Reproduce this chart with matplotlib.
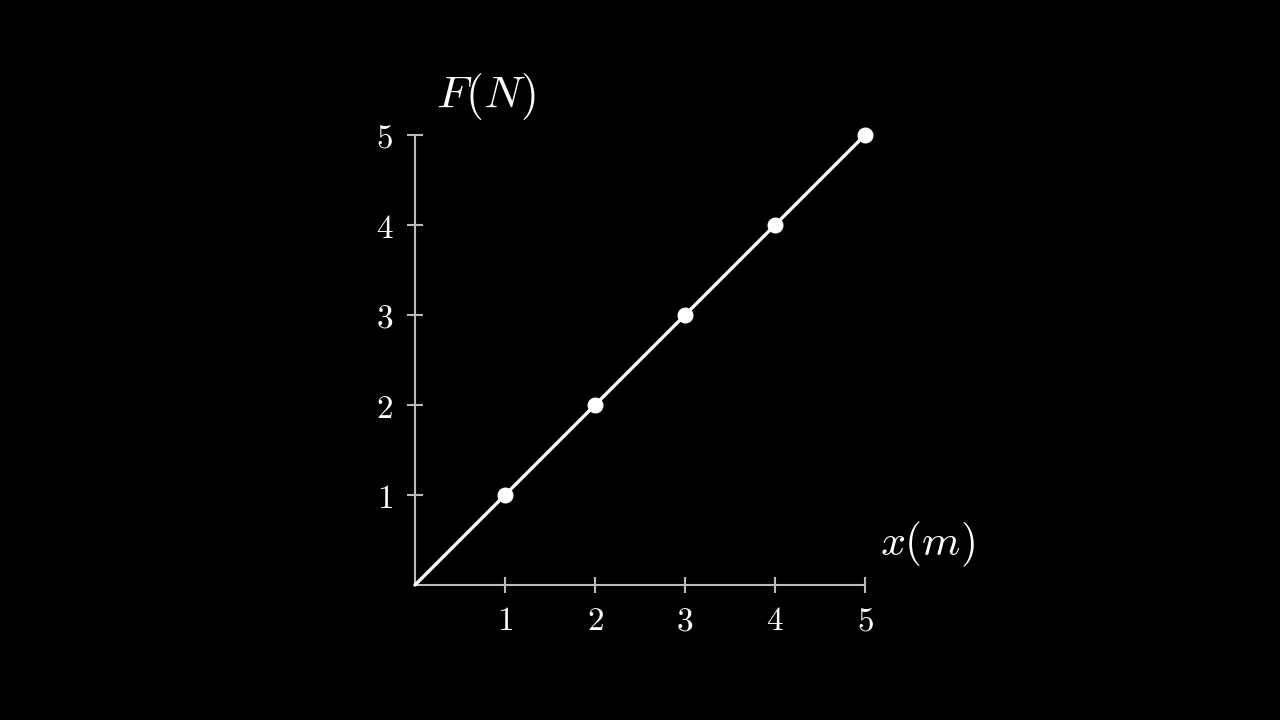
import matplotlib
matplotlib.use("Agg")
import matplotlib.pyplot as plt

plt.rcParams['mathtext.fontset'] = 'cm'
plt.rcParams['font.family'] = ['DejaVu Serif']

x_vals = [0, 1, 2, 3, 4, 5]
f_vals = [0, 1, 2, 3, 4, 5]
pt_x = [1, 2, 3, 4, 5]
pt_y = [1, 2, 3, 4, 5]
ticks = [1, 2, 3, 4, 5]
tick_labels = ['$1$', '$2$', '$3$', '$4$', '$5$']

W, H = 1280, 720
fig = plt.figure(figsize=(W / 100, H / 100), dpi=100, facecolor='black')
ax = fig.add_axes([415 / W, (H - 585) / H, 450 / W, 450 / H])
ax.set_facecolor('black')
ax.set_xlim(0, 5)
ax.set_ylim(0, 5)

axis_col = '#bbbbbb'
for s in ['top', 'right']:
    ax.spines[s].set_visible(False)
for s in ['left', 'bottom']:
    ax.spines[s].set_color(axis_col)
    ax.spines[s].set_linewidth(1.5)

ax.set_xticks(ticks)
ax.set_yticks(ticks)
ax.set_xticklabels(tick_labels)
ax.set_yticklabels(tick_labels)
ax.tick_params(direction='inout', length=11.5, width=1.5, color=axis_col,
               labelcolor='white', labelsize=24)
ax.tick_params(axis='x', pad=9)
ax.tick_params(axis='y', pad=10)

ax.plot(x_vals, f_vals, color='white', lw=2.4, solid_capstyle='round', clip_on=False, zorder=3)
ax.plot(pt_x, pt_y, 'o', color='white', ms=10.5, clip_on=False, zorder=4)

fig.text(486 / W, 1 - 96 / H, '$F(N)$', color='white', fontsize=33, ha='center', va='center')
fig.text(928 / W, 1 - 544 / H, '$x(m)$', color='white', fontsize=31.5, ha='center', va='center')

fig.savefig('out.png', dpi=100, facecolor='black')
